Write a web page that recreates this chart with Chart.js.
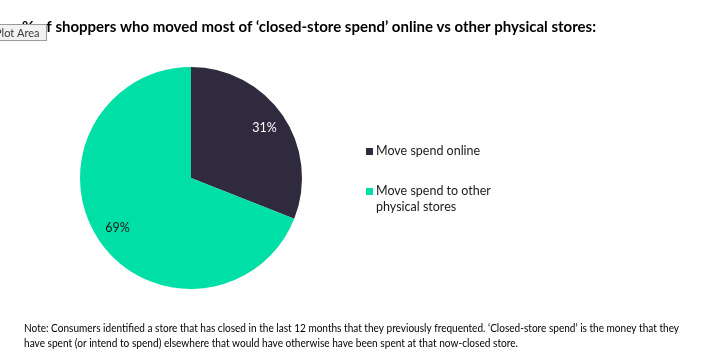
<!DOCTYPE html>
<html>
<head>
<meta charset="utf-8">
<script src="https://cdn.jsdelivr.net/npm/chart.js@4"></script>
<style>
  html, body { margin: 0; padding: 0; background: #ffffff; }
  #wrap { width: 712px; height: 361px; position: relative; }
</style>
</head>
<body>
<div id="wrap"><canvas id="pie"></canvas></div>
<script>
// ---- data ----
const categories = ['Move spend online', 'Move spend to other physical stores'];
const legendLines = [['Move spend online'], ['Move spend to other', 'physical stores']];
const shares = [31, 69];
const sliceColors = ['#302a3e', '#00dfa6'];
const labelColors = ['#ffffff', '#1a1a1a'];

const titleText = '% of shoppers who moved most of \u2018closed-store spend\u2019 online vs other physical stores:';
const noteLines = [
    'Note: Consumers identified a store that has closed in the last 12 months that they previously frequented. \u2018Closed-store spend\u2019 is the money that they',
    'have spent (or intend to spend) elsewhere that would have otherwise have been spent at that now-closed store.'
];

const FONT = 'Lato, "Open Sans", sans-serif';

// title, legend, note, percentage labels and the stray "Plot Area" tooltip
const extrasPlugin = {
    id: 'extras',
    afterDraw(chart) {
        const c = chart.ctx;
        c.save();
        c.textBaseline = 'middle';

        // title
        c.fillStyle = '#000000';
        c.font = 'bold 15px ' + FONT;
        c.textAlign = 'left';
        c.fillText(titleText, 22, 27, 576);

        // slice labels
        const meta = chart.getDatasetMeta(0);
        c.font = '12.5px ' + FONT;
        c.textAlign = 'center';
        meta.data.forEach((arc, i) => {
            const mid = (arc.startAngle + arc.endAngle) / 2;
            const r = arc.outerRadius * 0.8;
            c.fillStyle = labelColors[i];
            c.fillText(shares[i] + '%', arc.x + Math.cos(mid) * r, arc.y + Math.sin(mid) * r);
        });

        // legend
        c.textAlign = 'left';
        c.font = '12.5px ' + FONT;
        const legendY = [151, 191];
        legendLines.forEach((lines, i) => {
            c.fillStyle = sliceColors[i];
            c.fillRect(366, legendY[i] - 3, 7, 7);
            c.fillStyle = '#1a1a1a';
            lines.forEach((t, j) => c.fillText(t, 376, legendY[i] + j * 16));
        });

        // note
        c.font = '10.5px ' + FONT;
        c.fillStyle = '#000000';
        c.fillText(noteLines[0], 24, 329, 655);
        c.fillText(noteLines[1], 24, 344, 494);

        // tooltip artefact
        c.fillStyle = '#f2f2f2';
        c.fillRect(-2, 24, 49, 17);
        c.strokeStyle = '#9a9a9a';
        c.lineWidth = 1;
        c.strokeRect(-1.5, 24.5, 48, 16);
        c.fillStyle = '#3a3a3a';
        c.font = '11px ' + FONT;
        c.fillText('Plot Area', -5, 33);

        c.restore();
    }
};

new Chart(document.getElementById('pie'), {
    type: 'pie',
    data: {
        labels: categories,
        datasets: [{
            data: shares,
            backgroundColor: sliceColors,
            borderWidth: 0
        }]
    },
    options: {
        responsive: true,
        maintainAspectRatio: false,
        animation: false,
        layout: { padding: { left: 80, right: 410, top: 67, bottom: 72 } },
        plugins: {
            legend: { display: false },
            tooltip: { enabled: false }
        }
    },
    plugins: [extrasPlugin]
});
</script>
</body>
</html>
